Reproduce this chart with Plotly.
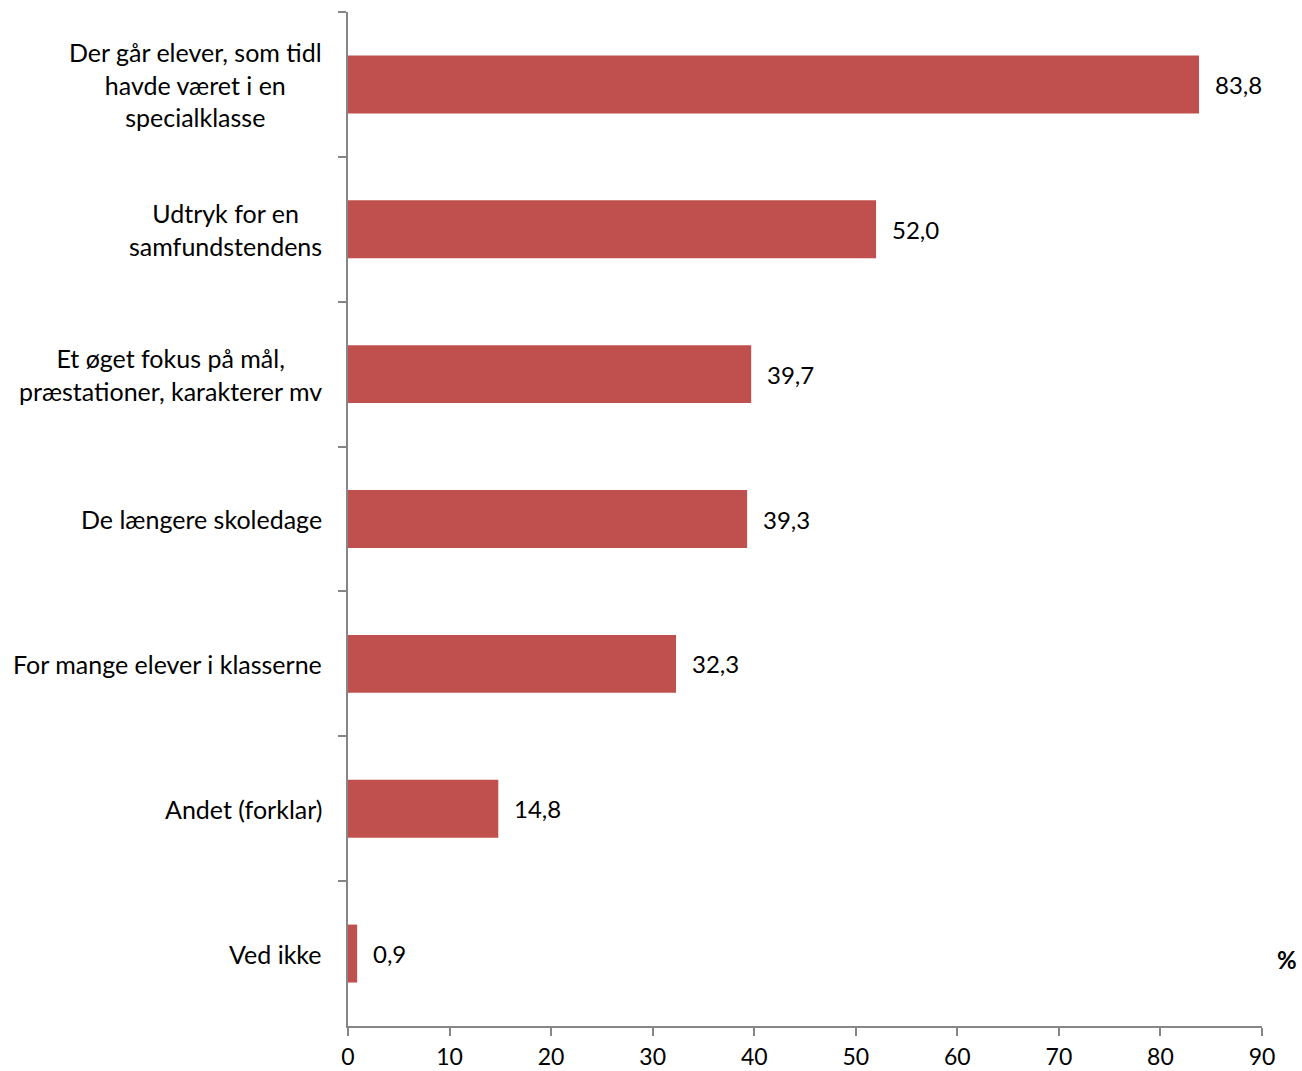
import plotly.graph_objects as go

categories = [
    "Der går elever, som tidl<br>havde været i en<br>specialklasse",
    "Udtryk for en<br>samfundstendens",
    "Et øget fokus på mål,<br>præstationer, karakterer mv",
    "De længere skoledage",
    "For mange elever i klasserne",
    "Andet (forklar)",
    "Ved ikke",
]
values = [83.8, 52.0, 39.7, 39.3, 32.3, 14.8, 0.9]
value_labels = ["83,8", "52,0", "39,7", "39,3", "32,3", "14,8", "0,9"]
x_ticks = [0, 10, 20, 30, 40, 50, 60, 70, 80, 90]

FONT = "Lato"
FS = 24
FS_CAT = 25
FS_TICK = 23
BAR = "#C0504D"
AXIS = "#868686"

fig = go.Figure()
fig.add_trace(go.Bar(
    y=categories, x=values, orientation="h",
    marker=dict(color=BAR, line=dict(width=0)),
    width=0.4, hoverinfo="skip",
))

annotations = []
for c, v, t in zip(categories, values, value_labels):
    annotations.append(dict(
        x=0, xref="paper", y=c, yref="y", text=c, showarrow=False,
        xanchor="right", yanchor="middle", align="center", xshift=-24,
        font=dict(family=FONT, size=FS_CAT, color="#000000"),
    ))
    annotations.append(dict(
        x=v, xref="x", y=c, yref="y", text=t, showarrow=False,
        xanchor="left", yanchor="middle", xshift=14,
        font=dict(family=FONT, size=FS, color="#000000"),
    ))
annotations.append(dict(
    x=1.0274, xref="paper", y=0.066, yref="paper", text="<b>%</b>",
    showarrow=False, xanchor="center", yanchor="middle",
    font=dict(family=FONT, size=FS, color="#000000"),
))

fig.update_layout(
    width=1302, height=1071,
    margin=dict(l=348, r=40, t=12, b=45, pad=0, autoexpand=False),
    paper_bgcolor="white", plot_bgcolor="white",
    showlegend=False,
    font=dict(family=FONT, size=FS, color="#000000"),
    annotations=annotations,
)
fig.update_xaxes(
    range=[0, 90], tickvals=x_ticks, ticktext=[str(v) for v in x_ticks],
    showline=True, linecolor=AXIS, linewidth=1.5,
    ticks="outside", ticklen=8, tickcolor=AXIS, tickwidth=1.5,
    ticklabelstandoff=2, automargin=False,
    showgrid=False, zeroline=False,
    tickfont=dict(family=FONT, size=FS_TICK, color="#000000"),
)
fig.update_yaxes(
    type="category", categoryorder="array", categoryarray=categories,
    autorange="reversed", showticklabels=False, automargin=False,
    tickson="boundaries",
    showline=True, linecolor=AXIS, linewidth=1.5,
    ticks="outside", ticklen=8, tickcolor=AXIS, tickwidth=1.5,
    showgrid=False, zeroline=False,
)

fig.write_html(
    "out.html",
    config={"displayModeBar": False},
    post_script="document.body.style.margin='0';document.body.style.overflow='hidden';",
)
